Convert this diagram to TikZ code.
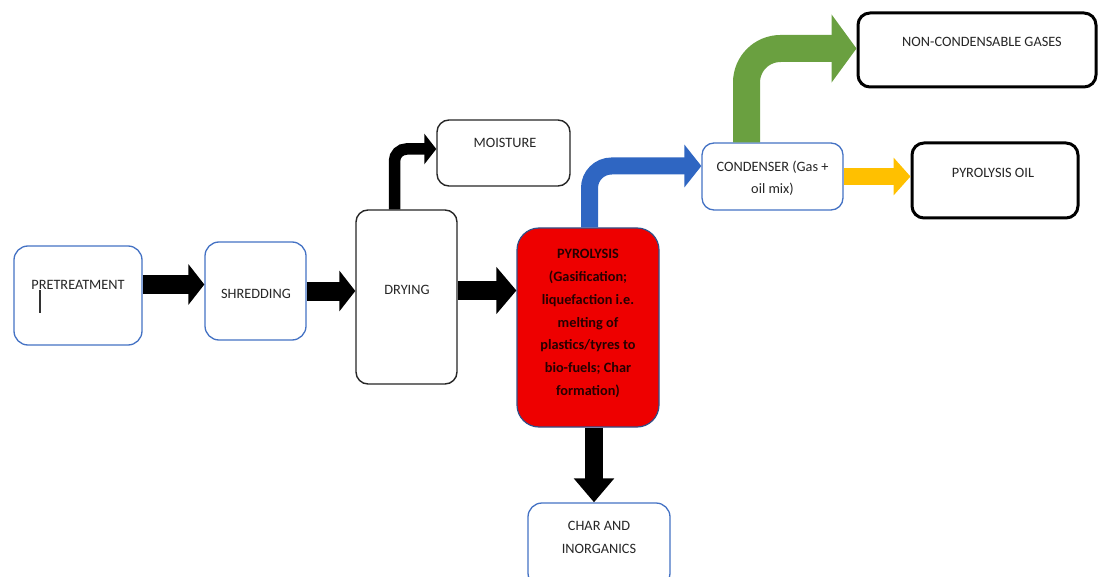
\documentclass[tikz,border=0pt]{standalone}
\usepackage{fontspec}
\setmainfont{Carlito}
\usetikzlibrary{arrows.meta}
\definecolor{bbord}{HTML}{4472C4}
\definecolor{barrow}{HTML}{2F66C2}
\definecolor{garrow}{HTML}{6AA040}
\definecolor{yarrow}{HTML}{FFC000}
\definecolor{pred}{HTML}{EE0000}
\begin{document}
\begin{tikzpicture}[x=1pt,y=-1pt,
  bluebox/.style={draw=bbord, line width=1.3pt, rounded corners=14pt, fill=white, inner sep=0pt},
  blackbox/.style={draw=black!85, line width=1.4pt, rounded corners=12pt, fill=white, inner sep=0pt},
  thickbox/.style={draw=black, line width=3pt, rounded corners=12pt, fill=white, inner sep=0pt},
  txt/.style={font=\fontsize{14.3}{22.5}\selectfont, text=black!85, inner sep=0pt, align=center},
  blk/.style={draw=black, line width=19pt, -{Triangle[length=16pt,width=40pt]}},
]
\useasboundingbox (0,0) rectangle (1099,577);

% boxes
\node[bluebox, minimum width=128pt, minimum height=99pt] (pre) at (78,295.5) {};
\node[bluebox, minimum width=101pt, minimum height=98pt] (shred) at (255.5,291) {};
\node[blackbox, minimum width=101pt, minimum height=174pt] (dry) at (406.5,297) {};
\node[blackbox, minimum width=133pt, minimum height=66pt] (moist) at (503.5,153) {};
\node[draw=bbord!70!black, line width=1.2pt, rounded corners=22pt, fill=pred, inner sep=0pt, minimum width=142pt, minimum height=199pt] (pyro) at (588,327.5) {};
\node[bluebox, rounded corners=12pt, minimum width=141pt, minimum height=67pt] (cond) at (772.5,176.5) {};
\node[thickbox, minimum width=238pt, minimum height=74pt] (nonc) at (977,50) {};
\node[thickbox, minimum width=166pt, minimum height=75pt] (oil) at (995,180.5) {};
\node[bluebox, minimum width=142pt, minimum height=84pt] (char) at (599,545) {};

% texts
\node[txt] (tpre) at (78,285) {PRETREATMENT};
\draw[line width=1.3pt, black!80] (40,290) -- (40,313);
\node[txt] (tshred) at (256,294) {SHREDDING};
\node[txt] (tdry) at (407,290) {DRYING};
\node[txt] (tmoist) at (505,143) {MOISTURE};
\node[txt, font=\fontsize{14.3}{22.8}\selectfont\bfseries, text=black!85!red] (tpyro) at (588,323.5) {PYROLYSIS\\(Gasification;\\liquefaction i.e.\\melting of\\plastics/tyres to\\bio-fuels; Char\\formation)};
\node[txt] (tcond) at (772.5,178.5) {CONDENSER (Gas +\\oil mix)};
\node[txt] (tnonc) at (982,42) {NON-CONDENSABLE GASES};
\node[txt] (toil) at (993,173) {PYROLYSIS OIL};
\node[txt] (tchar) at (599,537.5) {CHAR AND\\INORGANICS};

% straight black arrows
\draw[blk] (pre.east |- 0,284.5) -- (shred.west |- 0,284.5);
\draw[blk] (shred.east |- 0,291) -- (dry.west |- 0,291);
\draw[blk, -{Triangle[length=20pt,width=46pt]}] (dry.east |- 0,290.5) -- (pyro.west |- 0,290.5);
\draw[draw=black, line width=18pt, -{Triangle[length=24pt,width=39pt]}] (pyro.south -| 594,0) -- (char.north -| 594,0);

% bent arrows
\draw[draw=black, line width=11.5pt, rounded corners=12pt, -{Triangle[length=12pt,width=30pt]}] (dry.north -| 394.5,0) |- (moist.west |- 0,149);
\draw[draw=barrow, line width=17pt, rounded corners=22pt, -{Triangle[length=17pt,width=42pt]}] (pyro.north -| 589.5,0) |- (cond.west |- 0,166);
\draw[draw=garrow, line width=27pt, rounded corners=34pt, -{Triangle[length=25pt,width=67pt]}] (cond.north -| 746.5,0) |- (nonc.west |- 0,48.5);
\draw[draw=yarrow, line width=17pt, -{Triangle[length=17pt,width=37pt]}] (cond.east |- 0,176.5) -- (oil.west |- 0,176.5);
\end{tikzpicture}
\end{document}
